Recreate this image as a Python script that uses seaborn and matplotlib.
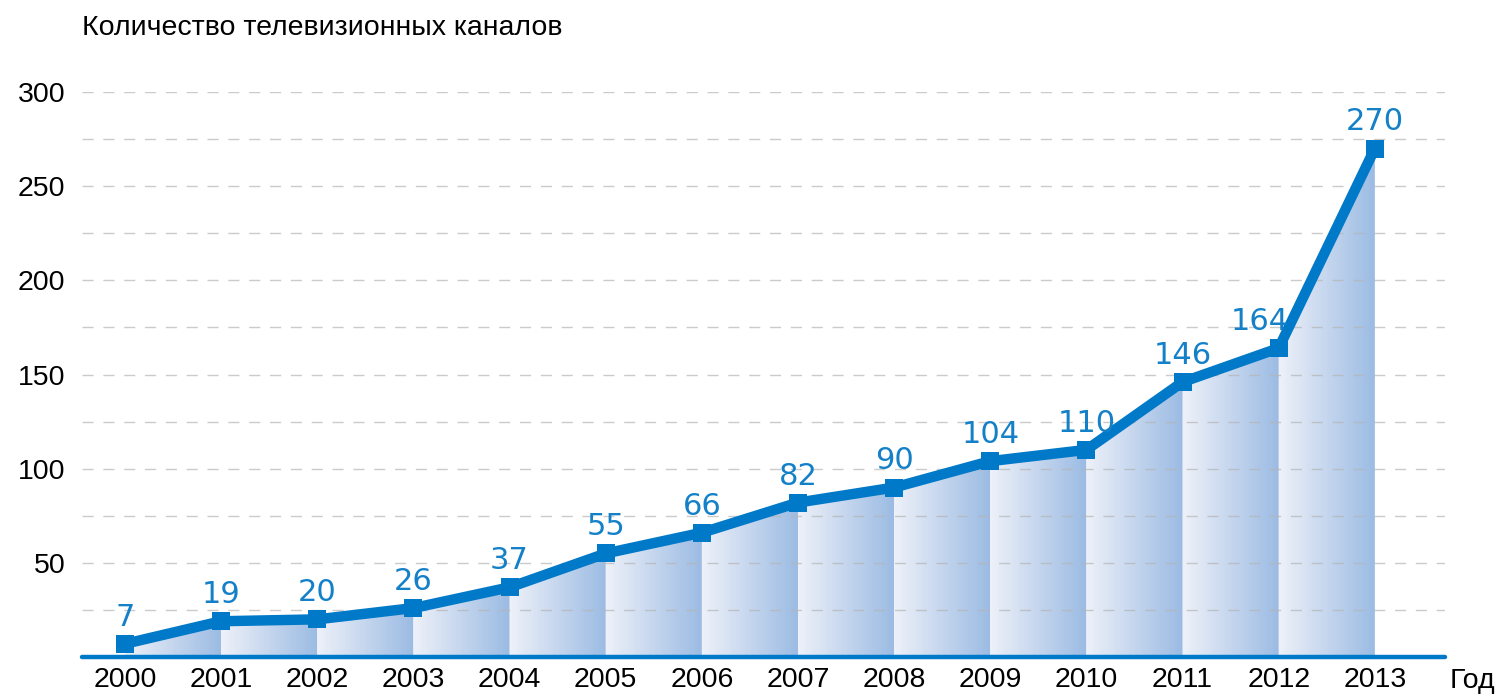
import numpy as np
import pandas as pd
import matplotlib
matplotlib.use("Agg")
import matplotlib.pyplot as plt
from matplotlib.patches import Polygon
from matplotlib.colors import LinearSegmentedColormap
import seaborn as sns

# Data
years = [2000, 2001, 2002, 2003, 2004, 2005, 2006, 2007, 2008, 2009, 2010, 2011, 2012, 2013]
channels = [7, 19, 20, 26, 37, 55, 66, 82, 90, 104, 110, 146, 164, 270]
y_ticks = [50, 100, 150, 200, 250, 300]

title = "Количество телевизионных каналов"
x_name = "Год"

sns.set_theme(style="white")
plt.rcParams['font.family'] = ['Liberation Sans', 'DejaVu Sans']

blue = "#0079c8"
grad = LinearSegmentedColormap.from_list("seg", ["#eef1f9", "#9bbbe3"])

df = pd.DataFrame({"year": years, "channels": channels})

fig = plt.figure(figsize=(14.99, 6.96), dpi=100)
ax = fig.add_axes([0.0547, 0.056, 0.9093, 0.8118])

# gradient fill under each segment
g = np.linspace(0, 1, 256).reshape(1, -1)
for i in range(len(years) - 1):
    x0, x1 = years[i], years[i + 1]
    y0, y1 = channels[i], channels[i + 1]
    poly = Polygon([(x0, 0), (x0, y0), (x1, y1), (x1, 0)], closed=True,
                   facecolor="none", edgecolor="none")
    ax.add_patch(poly)
    im = ax.imshow(g, cmap=grad, extent=(x0, x1, 0, max(y0, y1)),
                   aspect="auto", origin="lower", zorder=1, interpolation="bilinear")
    im.set_clip_path(poly)

# dashed grid every 25
for v in range(25, 301, 25):
    ax.axhline(v, color="#b5b5b5", lw=1.0, ls=(0, (8, 7)), alpha=0.7, zorder=2)

sns.lineplot(data=df, x="year", y="channels", ax=ax, color=blue, lw=7.5,
             marker="s", markersize=13, markeredgewidth=0, zorder=4)

ax.axhline(0, color=blue, lw=3.2, zorder=5, clip_on=False)

for x, y in zip(years, channels):
    dx = -14 if y == 164 else 0
    ax.annotate(str(y), (x, y), xytext=(dx, 13), textcoords="offset points",
                ha="center", va="baseline", fontsize=22, color="#1480c8",
                family=["DejaVu Sans"], zorder=6)

ax.set_xlim(1999.553, 2013.73)
ax.set_ylim(0, 300)
ax.set_xticks(years)
ax.set_xticklabels([str(y) for y in years])
ax.set_yticks(y_ticks)
ax.set_yticklabels([str(v) for v in y_ticks])
ax.tick_params(axis="both", length=0, labelsize=20.5, colors="black")
ax.tick_params(axis="x", pad=7)
ax.tick_params(axis="y", pad=12)
ax.set_xlabel("")
ax.set_ylabel("")
for s in ax.spines.values():
    s.set_visible(False)
ax.grid(False)

fig.text(1495 / 1499, 1 - 681 / 696, x_name, fontsize=20.5,
         ha="right", va="center", color="black")
fig.text(82 / 1499, 1 - 28 / 696, title, fontsize=20.5, ha="left", va="center", color="black")

fig.savefig("out.png", dpi=100)
plt.close(fig)
